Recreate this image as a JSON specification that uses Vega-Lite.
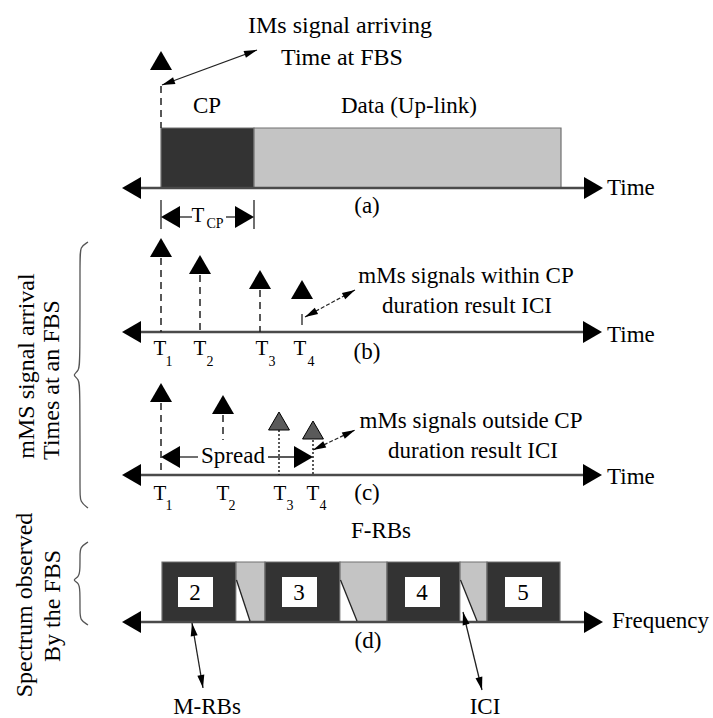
{
  "$schema": "https://vega.github.io/schema/vega-lite/v6.json",
  "width": 713,
  "height": 718,
  "padding": 0,
  "autosize": {"type": "none"},
  "background": "white",
  "config": {"view": {"stroke": null}, "text": {"font": "Liberation Serif", "color": "#000000"}},
  "encoding": {
    "x": {"field": "x", "type": "quantitative", "scale": {"domain": [0, 713], "nice": false, "zero": false}, "axis": null},
    "y": {"field": "y", "type": "quantitative", "scale": {"domain": [0, 718], "nice": false, "zero": false, "reverse": true}, "axis": null}
  },
  "layer": [
    {
      "data": {"values": [
        {"x": 161, "x2": 254, "y": 128, "y2": 188, "kind": "dot"},
        {"x": 254, "x2": 561, "y": 128, "y2": 188, "kind": "hatch"},
        {"x": 162, "x2": 236, "y": 562, "y2": 622, "kind": "dot"},
        {"x": 236, "x2": 265, "y": 562, "y2": 622, "kind": "hatch"},
        {"x": 265, "x2": 340, "y": 562, "y2": 622, "kind": "dot"},
        {"x": 340, "x2": 387, "y": 562, "y2": 622, "kind": "hatch"},
        {"x": 387, "x2": 460, "y": 562, "y2": 622, "kind": "dot"},
        {"x": 460, "x2": 487, "y": 562, "y2": 622, "kind": "hatch"},
        {"x": 487, "x2": 560, "y": 562, "y2": 622, "kind": "dot"}
      ]},
      "mark": {"type": "rect", "stroke": "#707070", "strokeWidth": 1.2},
      "encoding": {
        "x2": {"field": "x2"},
        "y2": {"field": "y2"},
        "fill": {"field": "kind", "type": "nominal", "scale": {"domain": ["dot", "hatch"], "range": ["#333333", "#c4c4c4"]}, "legend": null}
      }
    },
    {
      "data": {"values": [
        {"x": 178, "x2": 213, "y": 577, "y2": 607},
        {"x": 282, "x2": 317, "y": 577, "y2": 607},
        {"x": 405, "x2": 440, "y": 577, "y2": 607},
        {"x": 505, "x2": 542, "y": 577, "y2": 607}
      ]},
      "mark": {"type": "rect", "fill": "#ffffff"},
      "encoding": {"x2": {"field": "x2"}, "y2": {"field": "y2"}}
    },
    {
      "data": {"values": [
        {"id": 1, "x": 236.5, "y": 580, "y2": 621},
        {"id": 1, "x": 250, "y": 621, "y2": 621},
        {"id": 2, "x": 340.5, "y": 580, "y2": 621},
        {"id": 2, "x": 357, "y": 621, "y2": 621},
        {"id": 3, "x": 460.5, "y": 580, "y2": 621},
        {"id": 3, "x": 477, "y": 621, "y2": 621}
      ]},
      "mark": {"type": "area", "fill": "#ffffff", "orient": "vertical"},
      "encoding": {"y2": {"field": "y2"}, "detail": {"field": "id", "type": "nominal"}}
    },
    {
      "data": {"values": [
        {"x": 128, "y": 188, "x2": 590, "y2": 188},
        {"x": 128, "y": 332, "x2": 590, "y2": 332},
        {"x": 128, "y": 475, "x2": 590, "y2": 475},
        {"x": 128, "y": 622, "x2": 590, "y2": 622}
      ]},
      "mark": {"type": "rule", "stroke": "#4a4a4a", "strokeWidth": 2.5},
      "encoding": {"x2": {"field": "x2"}, "y2": {"field": "y2"}}
    },
    {
      "data": {"values": [
        {"x": 161, "y": 200, "x2": 161, "y2": 229},
        {"x": 254, "y": 200, "x2": 254, "y2": 229},
        {"x": 170, "y": 217, "x2": 192, "y2": 217},
        {"x": 226, "y": 217, "x2": 245, "y2": 217},
        {"x": 170, "y": 457, "x2": 198, "y2": 457},
        {"x": 268, "y": 457, "x2": 305, "y2": 457},
        {"x": 302, "y": 314, "x2": 302, "y2": 325},
        {"x": 162, "y": 85, "x2": 257, "y2": 50},
        {"x": 192, "y": 623, "x2": 203, "y2": 688},
        {"x": 463, "y": 612, "x2": 482, "y2": 690},
        {"x": 236.5, "y": 580, "x2": 250, "y2": 621},
        {"x": 340.5, "y": 580, "x2": 357, "y2": 621},
        {"x": 460.5, "y": 580, "x2": 477, "y2": 621}
      ]},
      "mark": {"type": "rule", "stroke": "#222222", "strokeWidth": 1.3},
      "encoding": {"x2": {"field": "x2"}, "y2": {"field": "y2"}}
    },
    {
      "data": {"values": [
        {"x": 161, "y": 86, "x2": 161, "y2": 128},
        {"x": 161, "y": 258, "x2": 161, "y2": 332},
        {"x": 200, "y": 275, "x2": 200, "y2": 332},
        {"x": 260, "y": 290, "x2": 260, "y2": 332},
        {"x": 161, "y": 403, "x2": 161, "y2": 475},
        {"x": 223, "y": 415, "x2": 223, "y2": 440}
      ]},
      "mark": {"type": "rule", "stroke": "#222222", "strokeWidth": 1.5, "strokeDash": [7, 5]},
      "encoding": {"x2": {"field": "x2"}, "y2": {"field": "y2"}}
    },
    {
      "data": {"values": [
        {"x": 279, "y": 430, "x2": 279, "y2": 475},
        {"x": 313, "y": 440, "x2": 313, "y2": 475}
      ]},
      "mark": {"type": "rule", "stroke": "#222222", "strokeWidth": 1.5, "strokeDash": [2, 2]},
      "encoding": {"x2": {"field": "x2"}, "y2": {"field": "y2"}}
    },
    {
      "data": {"values": [
        {"x": 305, "y": 317, "x2": 355, "y2": 290},
        {"x": 313, "y": 450, "x2": 355, "y2": 430}
      ]},
      "mark": {"type": "rule", "stroke": "#222222", "strokeWidth": 1.2, "strokeDash": [4, 2]},
      "encoding": {"x2": {"field": "x2"}, "y2": {"field": "y2"}}
    },
    {
      "data": {"values": [
        {"id": "b1", "i": 1, "x": 88, "y": 242},
        {"id": "b1", "i": 2, "x": 80, "y": 247},
        {"id": "b1", "i": 3, "x": 80, "y": 258},
        {"id": "b1", "i": 4, "x": 80, "y": 362},
        {"id": "b1", "i": 5, "x": 79, "y": 371},
        {"id": "b1", "i": 6, "x": 72, "y": 375},
        {"id": "b1", "i": 7, "x": 79, "y": 379},
        {"id": "b1", "i": 8, "x": 80, "y": 388},
        {"id": "b1", "i": 9, "x": 80, "y": 492},
        {"id": "b1", "i": 10, "x": 80, "y": 502},
        {"id": "b1", "i": 11, "x": 88, "y": 508},
        {"id": "b2", "i": 1, "x": 88, "y": 542},
        {"id": "b2", "i": 2, "x": 80, "y": 547},
        {"id": "b2", "i": 3, "x": 80, "y": 556},
        {"id": "b2", "i": 4, "x": 80, "y": 570},
        {"id": "b2", "i": 5, "x": 79, "y": 577},
        {"id": "b2", "i": 6, "x": 72, "y": 580},
        {"id": "b2", "i": 7, "x": 79, "y": 583},
        {"id": "b2", "i": 8, "x": 80, "y": 590},
        {"id": "b2", "i": 9, "x": 80, "y": 611},
        {"id": "b2", "i": 10, "x": 80, "y": 620},
        {"id": "b2", "i": 11, "x": 88, "y": 625}
      ]},
      "mark": {"type": "line", "stroke": "#555555", "strokeWidth": 1.3, "interpolate": "basis"},
      "encoding": {"detail": {"field": "id", "type": "nominal"}, "order": {"field": "i", "type": "quantitative"}}
    },
    {
      "data": {"values": [
        {"x": 161, "y": 51, "a": 0},
        {"x": 122, "y": 188, "a": 270},
        {"x": 603, "y": 188, "a": 90},
        {"x": 122, "y": 332, "a": 270},
        {"x": 602, "y": 332, "a": 90},
        {"x": 122, "y": 475, "a": 270},
        {"x": 602, "y": 475, "a": 90},
        {"x": 122, "y": 622, "a": 270},
        {"x": 603, "y": 622, "a": 90},
        {"x": 161, "y": 238, "a": 0},
        {"x": 200, "y": 255, "a": 0},
        {"x": 260, "y": 270, "a": 0},
        {"x": 302, "y": 280, "a": 0},
        {"x": 161, "y": 383, "a": 0},
        {"x": 223, "y": 395, "a": 0},
        {"x": 161, "y": 217, "a": 270},
        {"x": 254, "y": 217, "a": 90},
        {"x": 161, "y": 457, "a": 270},
        {"x": 313, "y": 457, "a": 90}
      ]},
      "mark": {"type": "point", "shape": "M0,0L-0.58,1L0.58,1Z", "size": 1444, "filled": true, "fill": "#000000", "opacity": 1, "strokeWidth": 0},
      "encoding": {"angle": {"field": "a", "type": "quantitative", "scale": null}}
    },
    {
      "data": {"values": [
        {"x": 279, "y": 412, "a": 0},
        {"x": 313, "y": 421, "a": 0}
      ]},
      "mark": {"type": "point", "shape": "M0,0L-0.58,1L0.58,1Z", "size": 1296, "filled": true, "fill": "#5a5a5a", "stroke": "#000000", "strokeWidth": 1, "opacity": 1},
      "encoding": {"angle": {"field": "a", "type": "quantitative", "scale": null}}
    },
    {
      "data": {"values": [
        {"x": 162, "y": 85, "a": 250.2},
        {"x": 257, "y": 50, "a": 70.2},
        {"x": 305, "y": 317, "a": 241.6},
        {"x": 355, "y": 290, "a": 61.6},
        {"x": 313, "y": 450, "a": 244.5},
        {"x": 355, "y": 430, "a": 64.5},
        {"x": 192, "y": 623, "a": 350.4},
        {"x": 203, "y": 688, "a": 170.4},
        {"x": 463, "y": 612, "a": 346.3},
        {"x": 482, "y": 690, "a": 166.3}
      ]},
      "mark": {"type": "point", "shape": "M0,0L-0.27,1L0.27,1Z", "size": 676, "filled": true, "fill": "#000000", "opacity": 1, "strokeWidth": 0},
      "encoding": {"angle": {"field": "a", "type": "quantitative", "scale": null}}
    },
    {
      "data": {"values": [
        {"x": 340, "y": 33, "t": "IMs signal arriving"},
        {"x": 342, "y": 65, "t": "Time at FBS"}
      ]},
      "mark": {"type": "text", "align": "center", "baseline": "alphabetic", "fontSize": 24},
      "encoding": {"text": {"field": "t"}}
    },
    {
      "data": {"values": [
        {"x": 207, "y": 113, "t": "CP"},
        {"x": 409, "y": 113, "t": "Data (Up-link)"},
        {"x": 367, "y": 213, "t": "(a)"},
        {"x": 367, "y": 359, "t": "(b)"},
        {"x": 367, "y": 500, "t": "(c)"},
        {"x": 368, "y": 648, "t": "(d)"},
        {"x": 466, "y": 283, "t": "mMs signals within CP"},
        {"x": 467, "y": 313, "t": "duration result ICI"},
        {"x": 471, "y": 428, "t": "mMs signals outside CP"},
        {"x": 473, "y": 458, "t": "duration result ICI"},
        {"x": 233, "y": 463, "t": "Spread"},
        {"x": 381, "y": 538, "t": "F-RBs"},
        {"x": 195, "y": 600, "t": "2"},
        {"x": 299, "y": 600, "t": "3"},
        {"x": 422, "y": 600, "t": "4"},
        {"x": 523, "y": 600, "t": "5"},
        {"x": 207, "y": 714, "t": "M-RBs"},
        {"x": 485, "y": 714, "t": "ICI"}
      ]},
      "mark": {"type": "text", "align": "center", "baseline": "alphabetic", "fontSize": 23},
      "encoding": {"text": {"field": "t"}}
    },
    {
      "data": {"values": [
        {"x": 607, "y": 195, "t": "Time"},
        {"x": 607, "y": 342, "t": "Time"},
        {"x": 607, "y": 484, "t": "Time"},
        {"x": 612, "y": 628, "t": "Frequency"}
      ]},
      "mark": {"type": "text", "align": "left", "baseline": "alphabetic", "fontSize": 23},
      "encoding": {"text": {"field": "t"}}
    },
    {
      "data": {"values": [
        {"x": 160, "y": 355, "t": "T"},
        {"x": 200, "y": 355, "t": "T"},
        {"x": 262, "y": 355, "t": "T"},
        {"x": 300, "y": 355, "t": "T"},
        {"x": 160, "y": 500, "t": "T"},
        {"x": 223, "y": 500, "t": "T"},
        {"x": 280, "y": 500, "t": "T"},
        {"x": 313, "y": 500, "t": "T"},
        {"x": 198, "y": 222, "t": "T"}
      ]},
      "mark": {"type": "text", "align": "center", "baseline": "alphabetic", "fontSize": 21},
      "encoding": {"text": {"field": "t"}}
    },
    {
      "data": {"values": [
        {"x": 169, "y": 366, "t": "1"},
        {"x": 210, "y": 366, "t": "2"},
        {"x": 272, "y": 366, "t": "3"},
        {"x": 311, "y": 366, "t": "4"},
        {"x": 169, "y": 510, "t": "1"},
        {"x": 232, "y": 510, "t": "2"},
        {"x": 290, "y": 510, "t": "3"},
        {"x": 323, "y": 510, "t": "4"},
        {"x": 215, "y": 228, "t": "CP"}
      ]},
      "mark": {"type": "text", "align": "center", "baseline": "alphabetic", "fontSize": 14},
      "encoding": {"text": {"field": "t"}}
    },
    {
      "data": {"values": [
        {"x": 27, "y": 366, "t": "mMS signal arrival"},
        {"x": 52, "y": 380, "t": "Times at an FBS"},
        {"x": 25, "y": 605, "t": "Spectrum observed"},
        {"x": 53, "y": 606, "t": "By the FBS"}
      ]},
      "mark": {"type": "text", "align": "center", "baseline": "middle", "angle": 270, "fontSize": 24},
      "encoding": {"text": {"field": "t"}}
    }
  ]
}
